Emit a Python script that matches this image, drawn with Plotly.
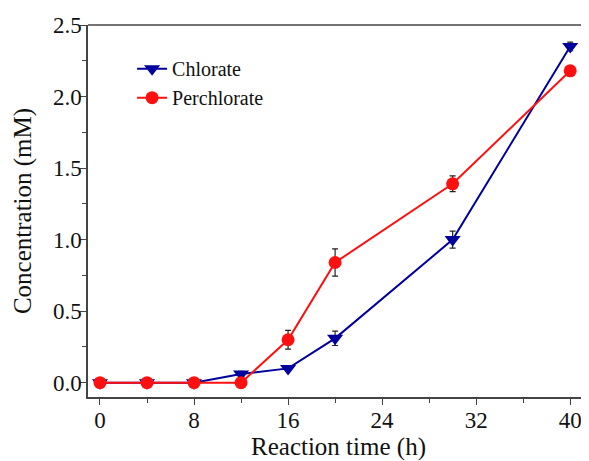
import plotly.graph_objects as go

time_h = [0, 4, 8, 12, 16, 20, 30, 40]
chlorate = [0, 0, 0, 0.06, 0.10, 0.31, 1.00, 2.35]
chlorate_err = [0.01, 0.01, 0.02, 0.02, 0.02, 0.05, 0.06, 0.03]
perchlorate = [0, 0, 0, 0, 0.30, 0.84, 1.39, 2.18]
perchlorate_err = [0.01, 0.01, 0.03, 0.03, 0.065, 0.095, 0.055, 0.02]

x_ticks = [0, 8, 16, 24, 32, 40]
y_ticks = [0.0, 0.5, 1.0, 1.5, 2.0, 2.5]

font_family = "Liberation Serif"

fig = go.Figure()
fig.add_trace(go.Scatter(
    x=time_h, y=chlorate, name="Chlorate", mode="lines+markers",
    line=dict(color="#00009C", width=2),
    marker=dict(symbol="triangle-down", size=14, color="#00009C"),
    error_y=dict(type="data", array=chlorate_err, color="#222222", thickness=1.2, width=3),
))
fig.add_trace(go.Scatter(
    x=time_h, y=perchlorate, name="Perchlorate", mode="lines+markers",
    line=dict(color="#FF1010", width=2),
    marker=dict(symbol="circle", size=13, color="#FF1010"),
    error_y=dict(type="data", array=perchlorate_err, color="#222222", thickness=1.2, width=3),
))

axis_common = dict(
    showline=True, linecolor="#444444", linewidth=1.5, mirror=False,
    ticks="outside", ticklen=6, tickwidth=1.2, tickcolor="#444444",
    showgrid=False, zeroline=False,
    tickfont=dict(family=font_family, size=23, color="#111111"),
)

fig.update_xaxes(
    range=[-1.02, 41.6], tickvals=x_ticks, ticklabelstandoff=-4,
    minor=dict(ticks="outside", ticklen=4, tickwidth=1.2, tickcolor="#444444", dtick=4, tick0=0),
    title=dict(text="Reaction time (h)", font=dict(family=font_family, size=25, color="#111111"), standoff=13),
    **axis_common,
)
fig.update_yaxes(
    range=[-0.1, 2.5], tickvals=y_ticks, tickformat=".1f", ticklabelstandoff=-6,
    minor=dict(ticks="outside", ticklen=4, tickwidth=1.2, tickcolor="#444444", dtick=0.25, tick0=0),
    title=dict(text="Concentration (mM)", font=dict(family=font_family, size=25, color="#111111"), standoff=14),
    **axis_common,
)

fig.add_shape(type="line", xref="paper", yref="paper", x0=0, x1=1, y0=1, y1=1,
              line=dict(color="#444444", width=1.5))

# page body has an 8px default margin, so the figure is offset by 8px
fig.update_layout(
    width=581, height=453,
    font=dict(family=font_family),
    margin=dict(l=80, r=0, t=17, b=64, autoexpand=False),
    plot_bgcolor="white", paper_bgcolor="white",
    showlegend=True,
    legend=dict(x=0.088, y=0.935, xanchor="left", yanchor="top",
                font=dict(family=font_family, size=20, color="#111111"),
                bgcolor="rgba(0,0,0,0)", tracegroupgap=0, itemwidth=30),
)

fig.write_html("out.html")
